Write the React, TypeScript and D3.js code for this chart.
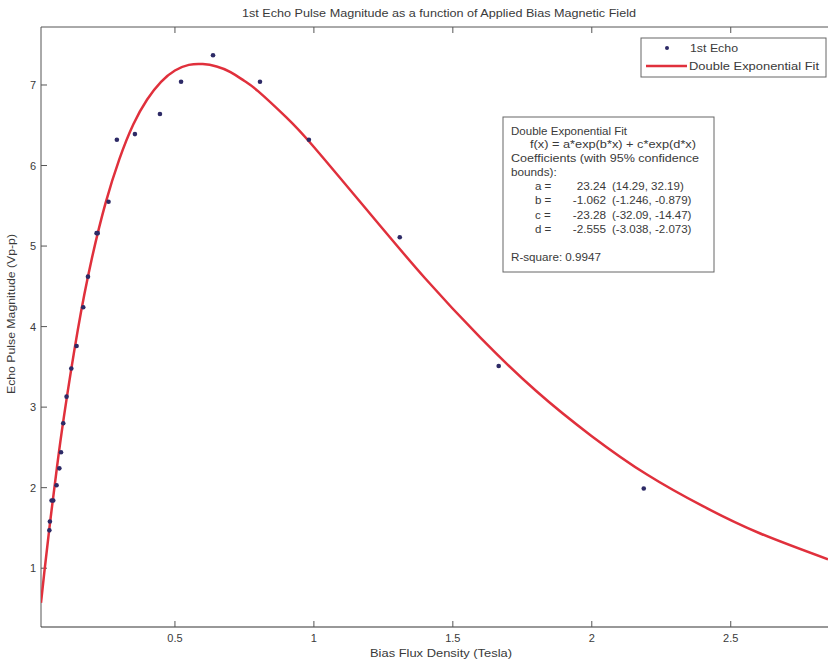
import React from "react";
import * as d3 from "d3";

const echoX = [0.048, 0.05, 0.056, 0.062, 0.074, 0.084, 0.09, 0.098, 0.11, 0.127, 0.146, 0.17, 0.187, 0.218, 0.222, 0.261, 0.291, 0.356, 0.446, 0.522, 0.637, 0.806, 0.982, 1.309, 1.665, 2.187];
const echoY = [1.47, 1.58, 1.84, 1.84, 2.03, 2.24, 2.44, 2.8, 3.13, 3.48, 3.76, 4.24, 4.62, 5.16, 5.16, 5.55, 6.32, 6.39, 6.64, 7.04, 7.37, 7.04, 6.32, 5.11, 3.51, 1.99];

const fitX = [0.018, 0.03, 0.05, 0.075, 0.1, 0.15, 0.2, 0.25, 0.3, 0.35, 0.4, 0.45, 0.5, 0.55, 0.6, 0.65, 0.7, 0.75, 0.8, 0.9, 1.0, 1.2, 1.4, 1.6, 1.8, 2.0, 2.2, 2.4, 2.6, 2.85];
const fitY = [0.57, 0.95, 1.55, 2.24, 2.87, 3.95, 4.83, 5.53, 6.08, 6.51, 6.82, 7.04, 7.18, 7.25, 7.26, 7.23, 7.16, 7.05, 6.92, 6.6, 6.23, 5.41, 4.6, 3.86, 3.2, 2.64, 2.16, 1.77, 1.44, 1.11];

const xTicks = [0.5, 1, 1.5, 2, 2.5];
const xTickLabels = ["0.5", "1", "1.5", "2", "2.5"];
const yTicks = [1, 2, 3, 4, 5, 6, 7];
const yTickLabels = ["1", "2", "3", "4", "5", "6", "7"];

const title = "1st Echo Pulse Magnitude as a function of Applied Bias Magnetic Field";
const xLabel = "Bias Flux Density (Tesla)";
const yLabel = "Echo Pulse Magnitude (Vp-p)";
const legendLabels = ["1st Echo", "Double Exponential Fit"];

const coefNames = ["a =", "b =", "c =", "d ="];
const coefValues = ["23.24", "-1.062", "-23.28", "-2.555"];
const coefBounds = ["(14.29, 32.19)", "(-1.246, -0.879)", "(-32.09, -14.47)", "(-3.038, -2.073)"];
const fitHeader = ["Double Exponential Fit", "f(x) = a*exp(b*x) + c*exp(d*x)", "Coefficients (with 95% confidence", "bounds):"];
const rSquare = "R-square: 0.9947";

const W = 828, H = 663;
const L = 41, R = 828, T = 27, B = 627;

export default function App() {
  const x = d3.scaleLinear().domain([0.018, 2.85]).range([L, R]);
  const y = d3.scaleLinear().domain([0.27, 7.72]).range([B, T]);
  const fitPts = fitX.map((v, i) => [v, fitY[i]] as [number, number]);
  const line = d3.line<[number, number]>().x(d => x(d[0])).y(d => y(d[1])).curve(d3.curveNatural);
  const font = "'Liberation Sans', Arial, sans-serif";
  const tc = "#3a3a3a";
  const red = "#e0303c";
  const dot = "#2d2a66";
  const st = (tx: number, ty: number, s: string, sx: number, anchor = "start", fs = 10.5) => (
    <text transform={`translate(${tx},${ty}) scale(${sx},1)`} textAnchor={anchor} fontSize={fs} fill={tc}>{s}</text>
  );
  return (
    <svg width={W} height={H} style={{ position: "absolute", left: 0, top: 0, background: "#fff" }} fontFamily={font}>
      <defs>
        <clipPath id="plot"><rect x={L} y={T} width={R - L} height={B - T} /></clipPath>
      </defs>
      <rect x={0} y={0} width={W} height={H} fill="#fff" />
      <text x={242} y={17} fontSize={10.5} fill={tc} textLength={394} lengthAdjust="spacingAndGlyphs">{title}</text>
      <line x1={L} y1={T} x2={R} y2={T} stroke="#555" strokeWidth={1} />
      <line x1={L} y1={T} x2={L} y2={B} stroke="#555" strokeWidth={1} />
      <line x1={L} y1={B} x2={R} y2={B} stroke="#333" strokeWidth={1.2} />
      {xTicks.map((t, i) => (
        <g key={"xt" + i}>
          <line x1={x(t)} x2={x(t)} y1={B} y2={B - 6} stroke="#555" />
          <line x1={x(t)} x2={x(t)} y1={T} y2={T + 6} stroke="#555" />
          <text x={x(t)} y={B + 15} fontSize={11} textAnchor="middle" fill={tc}>{xTickLabels[i]}</text>
        </g>
      ))}
      {yTicks.map((t, i) => (
        <g key={"yt" + i}>
          <line x1={L} x2={L + 6} y1={y(t)} y2={y(t)} stroke="#555" />
          <text x={L - 5} y={y(t) + 4} fontSize={11} textAnchor="end" fill={tc}>{yTickLabels[i]}</text>
        </g>
      ))}
      <text x={370} y={657} fontSize={11} fill={tc} textLength={142} lengthAdjust="spacingAndGlyphs">{xLabel}</text>
      <text transform={`translate(15, 394) rotate(-90)`} fontSize={11} fill={tc} textLength={160} lengthAdjust="spacingAndGlyphs">{yLabel}</text>
      <g clipPath="url(#plot)">
        <path d={line(fitPts) || ""} fill="none" stroke={red} strokeWidth={2.5} />
      </g>
      {echoX.map((v, i) => (
        <circle key={"p" + i} cx={x(v)} cy={y(echoY[i])} r={2.3} fill={dot} />
      ))}
      <rect x={641} y={38} width={185} height={39} fill="#fff" stroke="#666" strokeWidth={1} />
      <circle cx={667} cy={48} r={2} fill={dot} />
      <text x={690} y={52} fontSize={11} fill={tc} textLength={48} lengthAdjust="spacingAndGlyphs">{legendLabels[0]}</text>
      <line x1={646} x2={687} y1={66} y2={66} stroke={red} strokeWidth={2.5} />
      <text x={689} y={70} fontSize={11} fill={tc} textLength={130} lengthAdjust="spacingAndGlyphs">{legendLabels[1]}</text>
      <rect x={503} y={117} width={211} height={155} fill="#fff" stroke="#666" strokeWidth={1} />
      <text x={511} y={135} fontSize={10.5} fill={tc} textLength={116} lengthAdjust="spacingAndGlyphs">{fitHeader[0]}</text>
      <text x={530} y={148} fontSize={10.5} fill={tc} textLength={166} lengthAdjust="spacingAndGlyphs">{fitHeader[1]}</text>
      <text x={511} y={162} fontSize={10.5} fill={tc} textLength={188} lengthAdjust="spacingAndGlyphs">{fitHeader[2]}</text>
      {st(511, 176, fitHeader[3], 1.12)}
      {coefNames.map((n, i) => (
        <g key={"c" + i}>
          {st(535, 190 + i * 14.3, n, 1.1)}
          {st(606, 190 + i * 14.3, coefValues[i], 1.12, "end")}
          {st(612, 190 + i * 14.3, coefBounds[i], 1.1)}
        </g>
      ))}
      <text x={511} y={261} fontSize={10.5} fill={tc} textLength={90} lengthAdjust="spacingAndGlyphs">{rSquare}</text>
    </svg>
  );
}
